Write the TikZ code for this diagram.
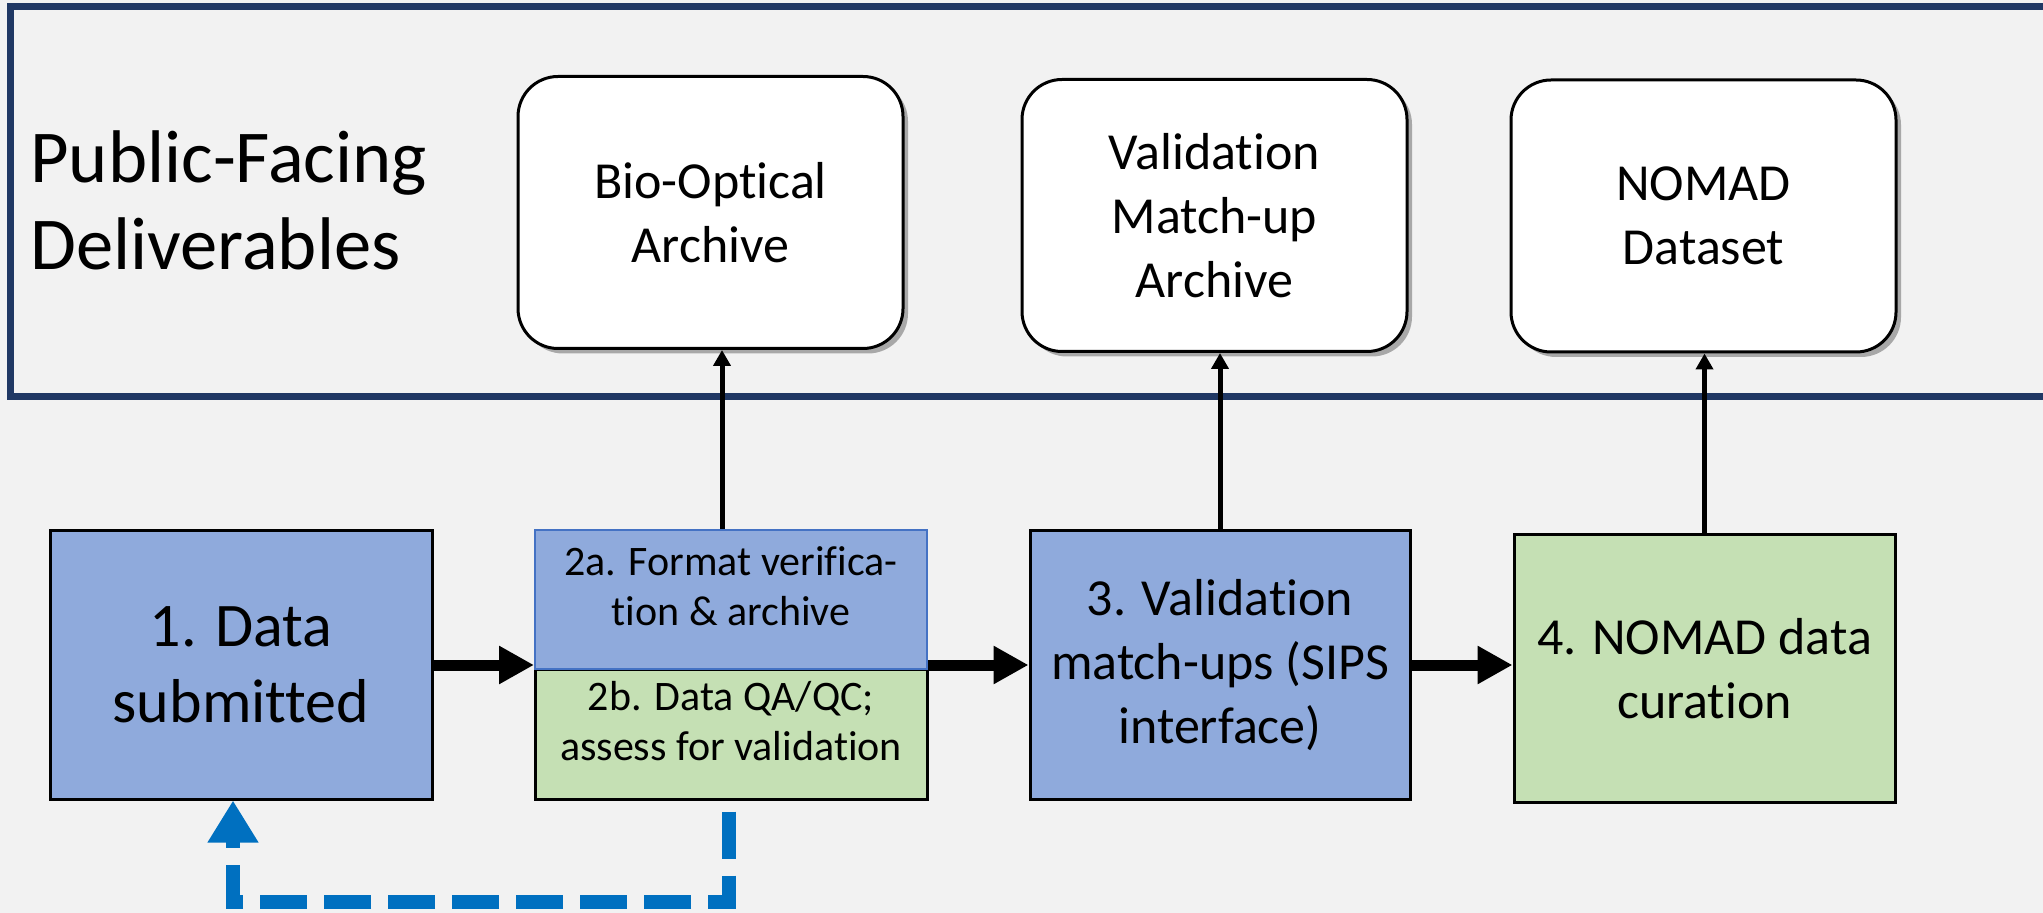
\documentclass[tikz,border=0pt]{standalone}
\usepackage{fontspec}
\setmainfont[Ligatures=NoCommon]{Carlito}
\usetikzlibrary{arrows.meta,shadows,calc}
\definecolor{bgc}{HTML}{F2F2F2}
\definecolor{navy}{HTML}{203864}
\definecolor{boxblue}{HTML}{8FAADC}
\definecolor{boxgreen}{HTML}{C5E0B4}
\definecolor{edgeblue}{HTML}{4472C4}
\definecolor{fbblue}{HTML}{0070C0}
\begin{document}
\begin{tikzpicture}[x=0.5pt,y=-0.5pt,
  deliv/.style={draw=black, line width=1.5pt, fill=white, rounded corners=20pt,
    minimum width=192.5pt, minimum height=136pt, align=center, inner sep=0pt,
    font=\fontsize{26pt}{32pt}\selectfont,
    drop shadow={shadow xshift=2.5pt, shadow yshift=-2.5pt, opacity=0.3, fill=black}},
  stepbox/.style={draw=black, line width=1.5pt, minimum width=190pt, minimum height=134pt,
    align=center, inner sep=0pt, font=\fontsize{26pt}{32pt}\selectfont},
  halfbox/.style={line width=1.5pt, minimum width=196pt, align=center, inner sep=0pt},
  lbl2/.style={align=center, font=\fontsize{21pt}{25pt}\selectfont, inner sep=0pt},
  bigarrow/.style={line width=5.5pt, -{Triangle[length=17.5pt,width=18pt]}},
  uparrow/.style={line width=2.5pt, -{Triangle[length=8pt,width=8.5pt]}},
  fb/.style={draw=fbblue, line width=7pt, dash pattern=on 23.5pt off 8.5pt, line join=miter,
    -{Triangle[length=21pt,width=24pt]}}
]
\path[use as bounding box, fill=bgc] (0,0) rectangle (2043,913);
\clip (0,0) rectangle (2043,913);

% frame
\draw[navy, line width=3.5pt] (2080,7) -- (10,7) -- (10,396.5) -- (2080,396.5);
\node[anchor=base west, align=left, inner sep=0pt, font=\fontsize{37.3pt}{43.5pt}\selectfont]
  (pf) at (30,270) {Public-Facing\\Deliverables};

% deliverables
\node[deliv] (bio) at (710.5,212.5) {Bio-Optical\\Archive};
\node[deliv] (val) at (1214.5,215.5) {Validation\\Match-up\\Archive};
\node[deliv] (nom) at (1703.5,216) {NOMAD\\Dataset};

% steps
\node[stepbox, fill=boxblue, minimum width=191pt, font=\fontsize{31pt}{38pt}\selectfont]
  (b1) at (241,665) {1. Data\\submitted};
\node[halfbox, draw=black, fill=boxgreen, minimum height=65pt,
  label={[lbl2, yshift=6.5pt]center:2b. Data QA/QC;\\assess for validation}] (b2b) at (731,734) {};
\node[halfbox, draw=edgeblue, line width=1pt, fill=boxblue, minimum height=69.5pt,
  label={[lbl2, yshift=6.5pt]center:2a. Format verifica-\\tion \& archive}] (b2a) at (731,599.5) {};
\node[stepbox, fill=boxblue] (b3) at (1220,665) {3. Validation\\match-ups (SIPS\\interface)};
\node[stepbox, fill=boxgreen, minimum width=190.5pt] (b4) at (1704.5,668.5) {4. NOMAD data\\curation};

% horizontal arrows
\draw[bigarrow] (b1.east) -- (b1.east -| b2a.west);
\draw[bigarrow] (b3.west -| b2a.east) -- (b3.west);
\draw[bigarrow] (b3.east) -- (b3.east -| b4.west);

% vertical arrows
\draw[uparrow] ([xshift=-4.5pt]b2a.north) -- ([xshift=-4.5pt]b2a.north |- bio.south);
\draw[uparrow] (b3.north) -- (b3.north |- val.south);
\draw[uparrow] (b4.north) -- (b4.north |- nom.south);

% feedback
\draw[fb] ([xshift=-1pt,yshift=-5.5pt]b2b.south) |- ([xshift=-4pt,yshift=-50.5pt]b1.south)
  -- ([xshift=-4pt]b1.south);
\end{tikzpicture}
\end{document}
